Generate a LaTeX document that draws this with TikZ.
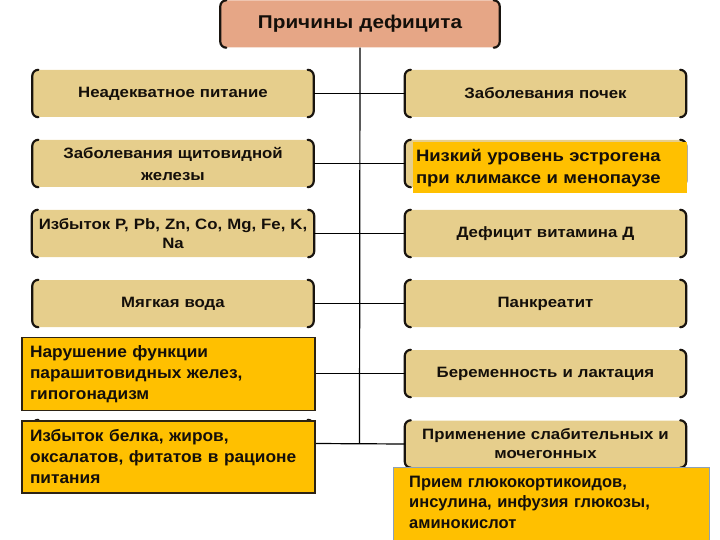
\documentclass[tikz,border=0pt]{standalone}
\usepackage{fontspec}
\setmainfont{Liberation Sans}
\newfontfamily\wide[FakeStretch=1.12]{Liberation Sans}
\newfontfamily\semiwide[FakeStretch=1.05]{Liberation Sans}
\definecolor{tanc}{RGB}{230,206,140}
\definecolor{orc}{RGB}{255,192,0}
\definecolor{titc}{RGB}{230,166,134}
\definecolor{txt}{RGB}{20,15,10}
\definecolor{brkc}{RGB}{25,20,15}
\definecolor{bordc}{RGB}{45,35,20}
\definecolor{blc}{RGB}{140,160,185}
\newcommand{\mybrackets}[1]{%
  \draw[brk] ([xshift=6pt]#1.north west) to[out=180,in=90] ([yshift=-6pt]#1.north west)
    -- ([yshift=6pt]#1.south west) to[out=-90,in=180] ([xshift=6pt]#1.south west);
  \draw[brk] ([xshift=-6pt]#1.north east) to[out=0,in=90] ([yshift=-6pt]#1.north east)
    -- ([yshift=6pt]#1.south east) to[out=-90,in=0] ([xshift=-6pt]#1.south east);
}
\begin{document}
\begin{tikzpicture}[x=1pt,y=-1pt,
  tanbox/.style={rectangle, rounded corners=7pt, fill=tanc, minimum width=281pt, minimum height=47pt,
    text width=276pt, align=center, inner sep=0pt, font=\wide\bfseries\fontsize{15}{19}\selectfont, text=txt},
  orbox/.style={rectangle, fill=orc, align=left, inner ysep=0pt, font=\semiwide\bfseries\fontsize{16.5}{21}\selectfont, text=txt},
  brk/.style={line width=2.2pt, draw=brkc, line cap=round},
  con/.style={line width=1.2pt, draw=black}]
\useasboundingbox (0,0) rectangle (720,540);

% title
\node[tanbox, fill=titc, minimum width=279pt, font=\wide\bfseries\fontsize{18.5}{22}\selectfont] (title) at (360,24) {Причины дефицита};
\mybrackets{title}

% left column
\node[tanbox] (L1) at (173,93.5) {Неадекватное питание};
\node[tanbox, font=\wide\bfseries\fontsize{15}{22}\selectfont] (L2) at (173,163.5) {Заболевания щитовидной\\железы};
\node[tanbox, text width=282pt] (L3) at (173,233.5) {Избыток P, Pb, Zn, Co, Mg, Fe, K,\\Na};
\node[tanbox] (L4) at (173,303.5) {Мягкая вода};
\node[tanbox] (L5) at (173,373.5) {};
\node[tanbox] (L6) at (173,443.5) {};

% right column
\node[tanbox] (R1) at (545.5,93.5) {Заболевания почек};
\node[tanbox] (R2) at (545.5,163.5) {};
\node[tanbox] (R3) at (545.5,233.5) {Дефицит витамина Д};
\node[tanbox] (R4) at (545.5,303.5) {Панкреатит};
\node[tanbox] (R5) at (545.5,373.5) {Беременность и лактация};
\node[tanbox, font=\wide\bfseries\fontsize{15}{19}\selectfont] (R6) at (545.5,444) {Применение слабительных и\\мочегонных};

\foreach \n in {L1,L2,L3,L4,L5,L6,R1,R2,R3,R4,R5,R6} {\mybrackets{\n}}

% connectors
\coordinate (spend) at (359.5,443.5);
\draw[con] (title.south) -- (spend);
\foreach \i in {1,...,6} {\draw[con] (L\i.east) -- (R\i.west);}

% orange overlay boxes
\node[orbox, draw=bordc, line width=1.5pt, text width=277pt, inner xsep=8pt, minimum height=73pt] (LO1) at (168.5,374)
  {Нарушение функции\\парашитовидных желез,\\гипогонадизм};
\node[orbox, draw=bordc, line width=1.5pt, text width=277pt, inner xsep=8pt, minimum height=72pt] (LO2) at (168.5,457)
  {Избыток белка, жиров,\\оксалатов, фитатов в рационе\\питания};
\node[orbox, text width=268pt, inner xsep=3pt, minimum height=51pt, font=\wide\bfseries\fontsize{16.5}{22}\selectfont] (RO1) at (550,168)
  {Низкий уровень эстрогена\\при климаксе и менопаузе};
\node[rectangle, fill=orc, draw=blc, line width=0.8pt, minimum width=316pt, minimum height=80pt] (RO2) at (551,507) {};
\node[orbox, fill=none, text width=295pt, inner xsep=0pt, anchor=west, font=\bfseries\fontsize{16.5}{20.5}\selectfont] (RO2t) at (409,502)
  {Прием глюкокортикоидов,\\инсулина, инфузия глюкозы,\\аминокислот};
\end{tikzpicture}
\end{document}
